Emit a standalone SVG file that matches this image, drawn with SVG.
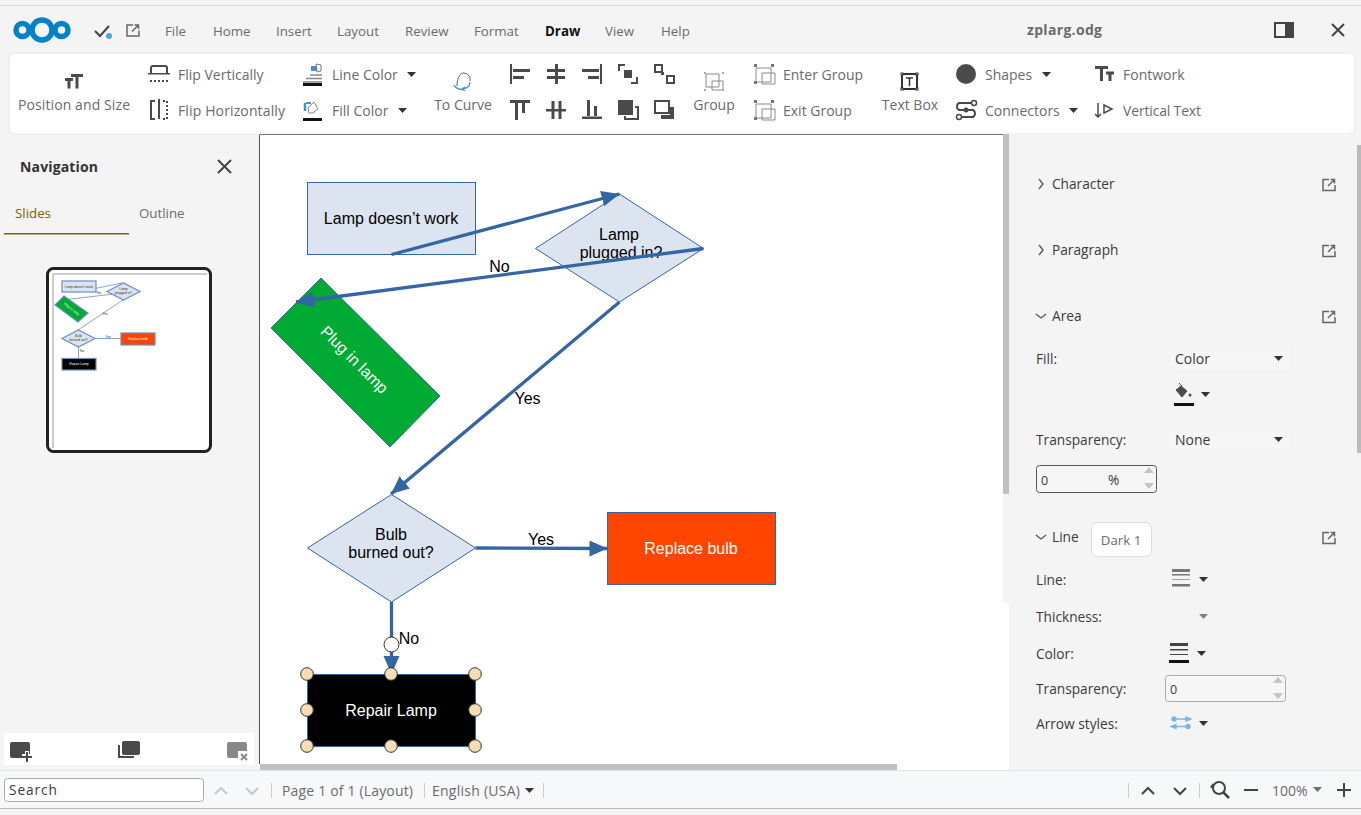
<svg xmlns="http://www.w3.org/2000/svg" width="1361" height="815" viewBox="0 0 1361 815">
<style>
text{font-family:"Open Sans","Noto Sans","Liberation Sans",sans-serif;font-size:14px;fill:#6b6b6b}
.m{font-size:13.3px}
.d{font-family:"Liberation Sans",Arial,sans-serif;font-size:16px;fill:#000;text-anchor:middle}
.t{font-family:"Liberation Sans",Arial,sans-serif;font-size:3.400px;fill:#333;text-anchor:middle}
.w{fill:#fff}
.l{fill:#3a3a3a;font-size:13.7px}
.c{text-anchor:middle}
.ic{fill:none;stroke:#4a4a4a;stroke-width:2}
.i3{fill:none;stroke:#4a4a4a;stroke-width:3}
.i1{fill:none;stroke:#4a4a4a;stroke-width:1.500}
.if{fill:#4a4a4a}
.ig{fill:none;stroke:#8a8a8a;stroke-width:1}
.conn{fill:none;stroke:#3465a4;stroke-width:3.300}
.h{fill:#f5deb3;stroke:#333;stroke-width:1}
.shape{stroke:#3465a4;stroke-width:1}
</style>
<defs>
<marker id="ah" markerUnits="userSpaceOnUse" markerWidth="20" markerHeight="18" refX="18" refY="8" orient="auto"><path d="M0 0L18 8L0 16Z" fill="#3465a4"/></marker>
<path id="dn" d="M0 0h9l-4.500 5z" fill="#333"/>
<path id="ext" d="M0-5.500H-6V5.500H6V0M-1 1L5.500-5.500M1.500-5.500h4v4" fill="none" stroke="#666" stroke-width="1.500"/>
</defs>
<rect width="1361" height="815" fill="#f4f4f4"/>
<rect y="5" width="1361" height="1" fill="#dcdcdc"/>
<g id="menubar">
<g fill="none" stroke="#0082c9" stroke-width="5.500"><circle cx="42" cy="30" r="10"/><circle cx="22.500" cy="30" r="6.500"/><circle cx="61.500" cy="30" r="6.500"/></g>
<path d="M95 31l5 5 9-10" fill="none" stroke="#444" stroke-width="2"/><circle cx="109" cy="36" r="3" fill="#4da3dc"/>
<use href="#ext" x="133" y="30.500"/>
<text x="165" y="36" class="m">File</text><text x="213" y="36" class="m">Home</text><text x="276" y="36" class="m">Insert</text><text x="337" y="36" class="m">Layout</text><text x="405" y="36" class="m">Review</text><text x="474" y="36" class="m">Format</text>
<text x="545" y="36" class="m" style="font-weight:700;fill:#111">Draw</text><text x="605" y="36" class="m">View</text><text x="661" y="36" class="m">Help</text>
<text x="1027" y="35" textLength="75" style="font-weight:700">zplarg.odg</text>
<rect x="1275" y="23" width="18" height="14" fill="none" stroke="#444" stroke-width="2"/><rect x="1285" y="23" width="8" height="14" fill="#444"/>
<path d="M1332 24l12 12M1344 24l-12 12" stroke="#444" stroke-width="2"/>
</g>
<g id="toolbar">
<rect x="9" y="53" width="1346" height="81" rx="6" fill="#fff" stroke="#e6e6e6"/>
<path d="M65 79.500h8M69 79.500v9M71 75.500h12M77 75.500v13" class="i3"/>
<text x="18" y="110" textLength="112">Position and Size</text>
<path d="M151 73v-5a2 2 0 0 1 2-2h12a2 2 0 0 1 2 2v5" class="ic"/><rect x="148" y="73" width="22" height="1.500" fill="#4a4a4a"/><path d="M150 81h18" fill="none" stroke="#4a4a4a" stroke-width="2" stroke-dasharray="2 2"/>
<text x="178" y="80">Flip Vertically</text>
<path d="M155 101h-4v18h4M159 99v20" class="ic"/><path d="M163 101h4v18h-4" class="ic" stroke-dasharray="2 2"/>
<text x="178" y="116" textLength="107">Flip Horizontally</text>
<path d="M310 75h12M306 78.500h16M303 82h19" fill="none" stroke="#888" stroke-width="1.300"/><rect x="303" y="83" width="19" height="3" fill="#111"/><path d="M311 66h6v5h-6z" fill="#4a90d0"/><path d="M316 64l5 1v6l-4 1z" fill="none" stroke="#777"/>
<text x="332" y="80">Line Color</text><use href="#dn" x="407" y="72"/>
<path d="M308 108l6-6 4 7-5 4h-4z" class="ig"/><path d="M305 103v8" stroke="#4a90d0" stroke-width="2.500"/><path d="M306 103h5" stroke="#4a90d0" stroke-width="2"/><rect x="303" y="118" width="19" height="3" fill="#111"/>
<text x="332" y="116">Fill Color</text><use href="#dn" x="398" y="108"/>
<path d="M457 86c0-6 2-12 6-13 4 0 8 3 7 8" fill="none" stroke="#5a5a5a"/><path d="M454 85c2 4 8 7 15 1l1-4M465 91l-3-2 3-2" fill="none" stroke="#4a90d0" stroke-width="1.300"/>
<text x="463" y="110" class="c">To Curve</text>
<g class="if">
<rect x="510" y="64" width="2" height="20"/><rect x="513" y="69" width="17" height="3"/><rect x="513" y="76" width="11" height="3"/>
<rect x="547" y="69" width="18" height="3"/><rect x="547" y="76" width="18" height="3"/><rect x="555" y="64" width="3" height="20"/>
<rect x="600" y="64" width="2" height="20"/><rect x="582" y="69" width="17" height="3"/><rect x="588" y="76" width="11" height="3"/>
<rect x="510" y="100" width="20" height="3"/><rect x="515" y="103" width="3" height="17"/><rect x="522" y="103" width="3" height="10"/>
<rect x="546" y="109" width="20" height="2.500"/><rect x="551.500" y="101" width="3" height="18"/><rect x="558.500" y="101" width="3" height="18"/>
<rect x="582" y="116.500" width="20" height="2.500"/><rect x="587" y="100" width="3" height="16"/><rect x="594" y="106" width="3" height="10"/>
<rect x="624" y="70" width="8" height="8"/>
<rect x="618" y="100" width="15" height="15"/>
<rect x="661" y="72" width="3" height="3"/>
</g>
<path d="M619 71v-6h6M637 77v6h-6" class="ic"/>
<rect x="655" y="65" width="7" height="7" class="ic"/><rect x="667" y="76" width="7" height="7" class="ic"/>
<path d="M635 107h3v12h-13v-3" class="ic"/>
<rect x="655" y="101" width="14" height="12" class="ic"/><path d="M670 107h4v12h-13v-4h9z" class="if"/>
<path d="M706 74h13v13h-13zM712 81h11v9h-11z" class="ig"/><g fill="#aaa"><rect x="704" y="72" width="2" height="2"/><rect x="722" y="72" width="2" height="2"/><rect x="704" y="89" width="2" height="2"/><rect x="722" y="89" width="2" height="2"/></g>
<text x="714" y="110" class="c">Group</text>
<path d="M756 68h15v14h-15zM762 73h13v11h-13z" class="ig"/><g fill="#777"><rect x="754" y="64" width="3" height="3"/><rect x="771" y="64" width="3" height="3"/><rect x="754" y="81" width="3" height="3"/></g>
<text x="783" y="80">Enter Group</text>
<path d="M756 104h15v14h-15zM762 109h13v11h-13z" class="ig"/><g fill="#777"><rect x="754" y="100" width="3" height="3"/><rect x="771" y="100" width="3" height="3"/><rect x="754" y="117" width="3" height="3"/></g>
<text x="783" y="116">Exit Group</text>
<rect x="902" y="74" width="15" height="15" fill="none" stroke="#333" stroke-width="2"/><path d="M906 78h7M909.500 78v8" stroke="#333" stroke-width="1.500"/>
<g fill="#fff" stroke="#333"><rect x="901" y="73" width="2" height="2"/><rect x="916" y="73" width="2" height="2"/><rect x="901" y="88" width="2" height="2"/><rect x="916" y="88" width="2" height="2"/></g>
<text x="910" y="110" class="c">Text Box</text>
<circle cx="966" cy="74" r="10" fill="#4a4a4a"/>
<text x="985" y="80">Shapes</text><use href="#dn" x="1042" y="72"/>
<path d="M974 103h-15a4 4 0 0 0 0 7h14a4 4 0 0 1 0 7h-11" class="ic"/><circle cx="974" cy="103" r="2.500" fill="#fff" stroke="#4a4a4a" stroke-width="1.500"/><circle cx="959" cy="117" r="2.500" fill="#fff" stroke="#4a4a4a" stroke-width="1.500"/><circle cx="966" cy="110" r="2.500" fill="#4a4a4a"/>
<text x="985" y="116">Connectors</text><use href="#dn" x="1069" y="108"/>
<path d="M1095 67.500h13M1101.500 67v14M1106 73h8M1110 73v8" class="i3"/>
<text x="1123" y="80">Fontwork</text>
<path d="M1098 103v14M1095 114l3 3 3-3" class="i1"/><path d="M1104 105l8 4-8 4z" class="i1"/>
<text x="1123" y="116" textLength="78">Vertical Text</text>
</g>
<g id="navigation">
<text x="20" y="172" textLength="78" style="font-weight:700;fill:#333">Navigation</text>
<path d="M218 160l13 13M231 160l-13 13" stroke="#444" stroke-width="2"/>
<text x="15" y="218" class="m" style="fill:#7a6200">Slides</text><text x="139" y="218" class="m">Outline</text>
<rect x="4" y="233" width="125" height="1.500" fill="#7a6200"/>
<rect x="47.500" y="268.500" width="163" height="183" rx="6" fill="#fff" stroke="#222" stroke-width="3"/>
<path d="M53 448V274H207" fill="none" stroke="#999"/>
<g id="thumb">
<g stroke="#6c8ebf" stroke-width="1.200">
<path d="M78 292L122 283M140 291L62 300M123 300L78 330M95 338.500H121M78.500 347V358" fill="none" stroke-width=".8"/>
<rect x="62" y="281" width="34" height="11" fill="#dce4ef"/><path d="M107 291.500L123.500 283 140 291.500 123.500 300z" fill="#dce4ef"/>
<path d="M64 296L88 313 78 322 55 305z" fill="#0a3"/><path d="M62 338.500L78.500 330 95 338.500 78.500 347z" fill="#dce4ef"/>
<rect x="121" y="333" width="34" height="12" fill="#f40"/><rect x="62" y="358.500" width="34" height="11.500" fill="#000"/>
</g>
<text x="79" y="287.500" class="t">Lamp doesn’t work</text><text x="123.500" y="290" class="t">Lamp</text><text x="123.500" y="294" class="t">plugged in?</text>
<text class="t w" transform="translate(71 310) rotate(38)">Plug in lamp</text>
<text x="78.500" y="337" class="t">Bulb</text><text x="78.500" y="341" class="t">burned out?</text>
<text x="138" y="340" class="t w">Replace bulb</text><text x="79" y="365" class="t w">Repair Lamp</text>
<text x="99" y="294" class="t">No</text><text x="105" y="315" class="t">Yes</text><text x="108" y="338" class="t">Yes</text><text x="82" y="352" class="t">No</text>
</g>
<rect x="4" y="733" width="250" height="32" fill="#fff"/>
<rect x="10" y="742" width="20" height="16" rx="2" fill="#4a4a4a"/><path d="M22 756h10M27 751v10" stroke="#fff" stroke-width="4"/><path d="M22 757h10M27 752v10" stroke="#4a4a4a" stroke-width="2"/>
<rect x="122" y="741" width="18" height="14" rx="2" fill="#4a4a4a"/><path d="M119 745v12h15" fill="none" stroke="#4a4a4a" stroke-width="2"/>
<rect x="227" y="742" width="20" height="16" rx="2" fill="#888"/><path d="M238 751h10v10h-10z" fill="#fff"/><path d="M241 754l6 6M247 754l-6 6" stroke="#888" stroke-width="2"/>
</g>
<g id="canvas">
<rect x="259.500" y="134.500" width="750" height="636" fill="#fff"/>
<path d="M259.500 134.500V764" fill="none" stroke="#555"/><path d="M260 134.500H1003" stroke="#777"/>
<rect x="1003" y="494" width="6" height="109" fill="#f4f4f4"/>
<rect x="1003" y="134" width="6" height="360" fill="#c0c0c0"/>
<rect x="260" y="764" width="637" height="6" fill="#c0c0c0"/>
</g>
<g id="lamp-doesnt-work"><rect x="307.500" y="182.500" width="168" height="72" fill="#dce4ef" class="shape"/><text x="391" y="224" class="d">Lamp doesn’t work</text></g>
<g id="lamp-plugged-in"><path d="M535.500 248.500L619.500 194 703.500 248.500 619.500 302Z" fill="#dce4ef" class="shape"/><text x="619" y="240" class="d">Lamp</text><text x="621" y="258" class="d">plugged in?</text></g>
<g id="plug-in-lamp"><path d="M321 278L440 396 390 447 271 328Z" fill="#00aa33" class="shape"/><text class="d w" transform="translate(350.500 363.500) rotate(45)">Plug in lamp</text></g>
<g id="bulb-burned-out"><path d="M307.500 548L391.500 494.500 475.500 548 391.500 602Z" fill="#dce4ef" class="shape"/><text x="391" y="540" class="d">Bulb</text><text x="391" y="558" class="d">burned out?</text></g>
<g id="replace-bulb"><rect x="607.500" y="512.500" width="168" height="72" fill="#ff4500" class="shape"/><text x="691" y="554" class="d w">Replace bulb</text></g>
<g id="repair-lamp"><rect x="307.500" y="674.500" width="168" height="72" fill="#000" class="shape"/><text x="391" y="716" class="d w">Repair Lamp</text></g>
<g id="connectors">
<path d="M391.500 254.500L619.500 194" class="conn" marker-end="url(#ah)"/>
<path d="M703.500 248.500L296 302" class="conn" marker-end="url(#ah)"/>
<path d="M619.500 302L391 494" class="conn" marker-end="url(#ah)"/>
<path d="M475.500 548L607.500 548.500" class="conn" marker-end="url(#ah)"/>
<path d="M391.500 602V674" class="conn" marker-end="url(#ah)"/>
</g>
<g id="connector-labels"><text x="499.500" y="272" class="d">No</text><text x="527.500" y="404" class="d">Yes</text><text x="541" y="545" class="d">Yes</text><text x="409" y="644" class="d">No</text></g>
<g id="selection">
<circle cx="391.500" cy="644.500" r="7.500" fill="#fff" stroke="#333"/>
<circle cx="307" cy="674" r="6.300" class="h"/><circle cx="391" cy="674" r="6.300" class="h"/><circle cx="475" cy="674" r="6.300" class="h"/><circle cx="307" cy="710" r="6.300" class="h"/><circle cx="475" cy="710" r="6.300" class="h"/><circle cx="307" cy="746" r="6.300" class="h"/><circle cx="391" cy="746" r="6.300" class="h"/><circle cx="475" cy="746" r="6.300" class="h"/>
</g>
<g id="sidebar">
<rect x="1009" y="134" width="352" height="636" fill="#f4f4f4"/>
<rect x="1357" y="145" width="4" height="308" fill="#bbb"/>
<g fill="none" stroke="#555" stroke-width="1.300"><path d="M1039 179l4 5-4 5M1039 245l4 5-4 5M1036 314l5 4 5-4M1036 535l5 4 5-4"/></g>
<text x="1052" y="189" class="l">Character</text><text x="1052" y="255" class="l">Paragraph</text><text x="1052" y="321" class="l">Area</text><text x="1052" y="542" class="l">Line</text>
<text x="1036" y="364" class="l">Fill:</text><text x="1036" y="445" class="l">Transparency:</text><text x="1036" y="585" class="l">Line:</text><text x="1036" y="622" class="l">Thickness:</text><text x="1036" y="659" class="l">Color:</text><text x="1036" y="694" class="l">Transparency:</text><text x="1036" y="729" class="l">Arrow styles:</text>
<use href="#ext" x="1329" y="185"/><use href="#ext" x="1329" y="251"/><use href="#ext" x="1329" y="317"/><use href="#ext" x="1329" y="538"/>
<rect x="1170" y="347" width="120" height="23" rx="3" fill="#f6f6f6"/><text x="1175" y="364" class="l" style="font-size:14px">Color</text><use href="#dn" x="1274" y="356"/>
<rect x="1170" y="428" width="120" height="23" rx="3" fill="#f6f6f6"/><text x="1175" y="445" class="l" style="font-size:14px">None</text><use href="#dn" x="1274" y="437"/>
<path d="M1176 390l5-4 6 5-5 6zM1179 383l3 3" fill="#4a4a4a" stroke="#4a4a4a"/><circle cx="1190" cy="395" r="1.500" fill="#4a4a4a"/><rect x="1174" y="403" width="20" height="3" fill="#111"/><use href="#dn" x="1201" y="392"/>
<rect x="1036.500" y="465.500" width="120" height="27" rx="3" fill="#f6f6f6" stroke="#555"/><text x="1041" y="485" class="l" style="font-size:12.500px">0</text><text x="1108" y="485" class="l">%</text>
<path d="M1144 473l5-6 5 6zM1144 483l5 6 5-6z" fill="#c4c4c4"/>
<rect x="1091.500" y="522.500" width="60" height="34" rx="6" fill="#fff" stroke="#ddd"/><text x="1121" y="545" class="c m">Dark 1</text>
<g fill="#777"><rect x="1172" y="569" width="18" height="3"/><rect x="1172" y="574" width="18" height="1.500"/><rect x="1172" y="579" width="18" height="1" opacity=".7"/><rect x="1172" y="584" width="18" height="2.500"/></g><use href="#dn" x="1199" y="577"/>
<use href="#dn" x="1199" y="614" opacity=".6"/>
<g fill="#444"><rect x="1170" y="643" width="18" height="3"/><rect x="1170" y="649" width="18" height="1.500"/><rect x="1170" y="654" width="18" height="1"/><rect x="1169" y="660" width="20" height="3" fill="#111"/></g><use href="#dn" x="1197" y="651"/>
<rect x="1165.500" y="675.500" width="120" height="26" rx="3" fill="#f6f6f6" stroke="#aaa"/><text x="1170" y="694" class="l" style="font-size:12.500px">0</text>
<path d="M1273 683l5-6 5 6zM1273 693l5 6 5-6z" fill="#c4c4c4"/>
<g stroke="#7ab5e3" fill="#7ab5e3" stroke-width="1.300"><path d="M1173 719h16M1173 726.500h16"/><circle cx="1174" cy="719" r="2"/><circle cx="1188" cy="726.500" r="2"/><path d="M1186 717l5 2-5 2zM1176 724.500l-5 2 5 2z"/></g><use href="#dn" x="1199" y="721"/>
</g>
<g id="statusbar">
<rect y="770" width="1361" height="39" fill="#f7f8fa"/>
<rect y="770" width="1361" height="1" fill="#e2e2e2"/><rect y="808" width="1361" height="1" fill="#bdbdbd"/>
<rect x="4.500" y="778.500" width="199" height="23" rx="3" fill="#fff" stroke="#aaa"/><text x="9" y="795" textLength="48" class="l">Search</text>
<path d="M215 794l6-6 6 6M246 788l6 6 6-6" fill="none" stroke="#c8c8c8" stroke-width="2"/>
<g fill="#ccc"><rect x="271" y="783" width="1" height="15"/><rect x="424" y="783" width="1" height="15"/><rect x="543" y="783" width="1" height="15"/><rect x="1128" y="783" width="1" height="15"/><rect x="1199" y="783" width="1" height="15"/></g>
<text x="282" y="796" textLength="131">Page 1 of 1 (Layout)</text><text x="432" y="796" textLength="88">English (USA)</text><use href="#dn" x="525" y="788"/>
<path d="M1142 794l6-6 6 6M1174 788l6 6 6-6" fill="none" stroke="#444" stroke-width="2"/>
<circle cx="1219" cy="788" r="6" fill="none" stroke="#444" stroke-width="2"/><path d="M1223 792l6 6" stroke="#444" stroke-width="2.500"/><path d="M1210 787l3-4v6z" fill="#444"/>
<path d="M1244 790h14M1337 790h14M1344 783v14" stroke="#444" stroke-width="2"/>
<text x="1272" y="796">100%</text><use href="#dn" x="1313" y="787" opacity=".7"/>
</g>
</svg>
